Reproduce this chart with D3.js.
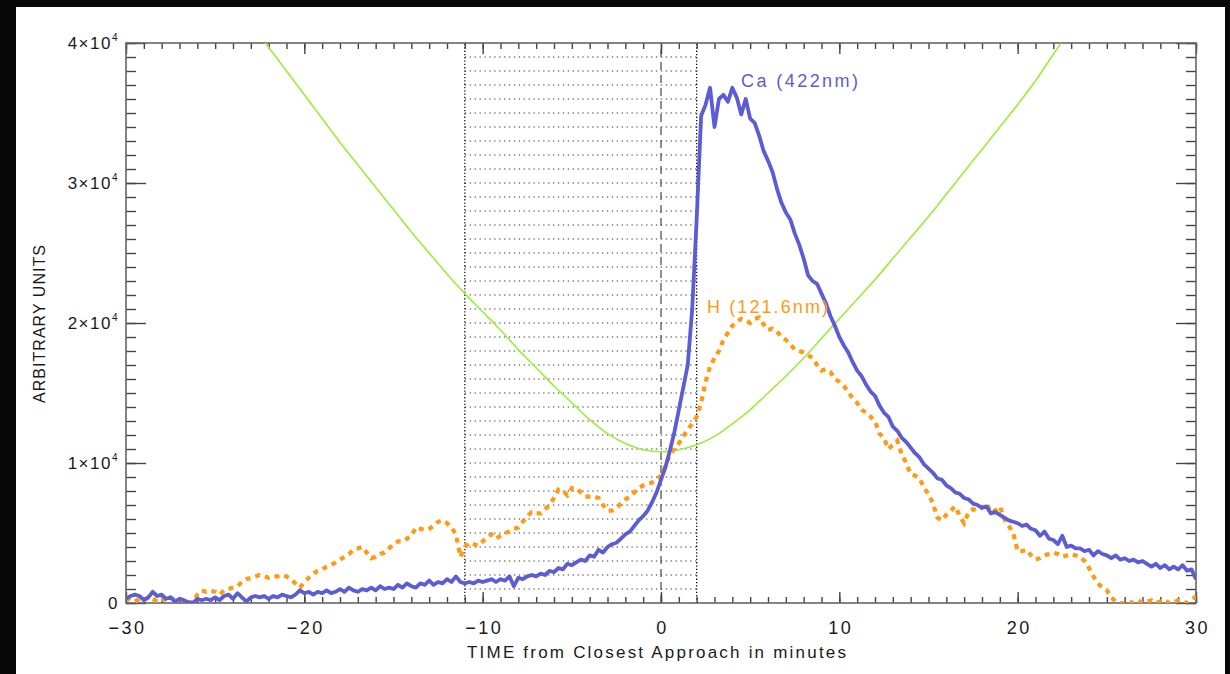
<!DOCTYPE html>
<html>
<head>
<meta charset="utf-8">
<script src="https://cdn.jsdelivr.net/npm/d3@7"></script>
<style>
  html, body { margin: 0; padding: 0; background: #000; }
  svg { display: block; }
  text { font-family: "Liberation Sans", Arial, sans-serif; fill: #1a1a1a; }
</style>
</head>
<body>
<svg id="chart"></svg>
<script>
// 表示サイズ
var size = { width: 1230, height: 674 };
var plot = { left: 126, top: 43, right: 1196, bottom: 603 };

// 時間軸 (分): サンプルは -30 から 0.25 分刻み
var tStart = -30, tStep = 0.25;

// Ca (422nm) 強度, 単位 1000
var caValues = [
  0.3,0.5,0.6,0.5,0.2,0.4,0.8,0.5,0.6,0.3,0.4,0.1,0.3,0.2,0.05,0.0,0.3,0.2,0.3,0.2,
  0.4,0.2,0.5,0.6,0.3,0.7,0.4,0.1,0.4,0.5,0.4,0.5,0.3,0.5,0.4,0.6,0.5,0.4,0.6,0.9,
  0.7,0.8,0.6,0.8,0.7,0.9,0.7,0.8,1.0,0.8,1.1,0.9,0.8,1.0,0.9,1.1,0.9,1.2,1.0,1.1,
  1.0,1.3,1.1,1.4,1.2,1.1,1.4,1.3,1.6,1.3,1.5,1.4,1.7,1.5,1.9,1.5,1.4,1.5,1.4,1.6,
  1.5,1.6,1.7,1.5,1.7,1.6,1.9,1.2,1.8,1.7,1.9,2.0,1.9,2.1,2.0,2.3,2.2,2.5,2.4,2.8,
  2.7,2.9,3.1,3.0,3.4,3.3,3.8,3.6,4.0,4.2,4.3,4.6,4.9,5.1,5.5,5.9,6.2,6.6,7.2,7.9,
  8.8,9.7,10.9,12.2,13.8,15.4,17.0,21.0,27.4,34.8,35.6,36.8,34.0,36.0,36.3,35.8,36.8,36.1,34.9,36.0,
  34.6,34.3,33.4,32.3,31.6,30.8,29.6,28.6,27.9,27.4,26.4,25.6,24.6,23.4,23.0,22.8,22.1,21.4,20.5,19.8,
  19.0,18.4,17.9,17.2,16.6,16.2,15.6,15.1,14.8,14.1,13.6,13.3,12.6,12.3,11.8,11.5,11.1,10.7,10.4,9.9,
  9.6,9.3,8.9,8.8,8.4,8.2,7.9,7.8,7.5,7.4,7.1,7.0,6.8,6.9,6.4,6.5,6.3,6.1,5.9,5.8,
  5.7,5.5,5.6,5.3,5.2,4.8,5.1,4.6,4.5,4.2,4.8,4.0,4.1,3.9,3.9,3.7,3.8,3.4,3.7,3.5,
  3.4,3.2,3.4,3.1,3.2,3.0,3.1,2.9,3.0,2.8,2.6,2.8,2.5,2.7,2.4,2.6,2.4,2.7,2.3,2.4,
  1.7
];

// H (121.6nm) 強度, 単位 1000
var hValues = [
  0.4,0.2,0.1,0.3,0.2,0.4,0.3,0.1,0.3,0.2,0.4,0.2,0.3,0.2,0.1,0.0,0.6,0.9,0.8,0.9,
  0.8,0.6,0.9,1.0,1.1,1.2,1.5,1.7,1.8,1.9,2.0,1.9,1.8,1.9,1.9,2.0,1.9,1.7,1.4,1.1,
  1.5,1.8,2.1,2.3,2.4,2.6,2.7,2.9,3.1,3.3,3.5,3.8,3.9,4.0,3.6,3.2,3.3,3.5,3.6,3.9,
  4.2,4.4,4.4,4.6,4.8,5.4,5.3,5.2,5.3,5.5,5.8,5.9,5.7,5.4,4.9,3.3,4.0,4.3,4.2,4.1,
  4.4,4.7,4.9,4.6,4.8,5.0,5.1,5.3,5.4,5.8,6.2,6.5,6.4,6.4,6.7,7.0,7.5,8.1,8.0,7.7,
  8.2,8.2,7.9,7.6,7.6,7.6,7.5,7.0,6.6,6.6,6.8,7.1,7.4,7.6,7.9,8.2,8.4,8.5,8.6,8.8,
  9.1,9.8,10.6,11.0,11.4,11.9,12.4,12.8,13.3,14.3,15.8,16.9,17.5,18.0,18.8,19.3,19.8,20.1,20.3,20.2,
  20.0,20.3,20.4,19.9,19.5,19.6,19.4,19.0,18.8,18.5,18.1,18.0,17.9,17.7,17.5,17.0,16.6,16.7,16.5,16.0,
  15.8,15.5,15.1,14.6,14.3,13.8,13.6,13.3,13.0,12.1,11.8,11.0,11.3,11.6,10.6,10.0,9.2,9.1,8.9,8.2,
  7.8,7.1,6.1,5.9,6.3,6.6,6.9,6.2,5.7,6.5,6.7,6.6,6.8,7.1,6.5,6.6,6.9,6.0,5.5,5.0,
  3.7,3.7,3.8,3.4,3.1,3.2,3.4,3.5,3.6,3.5,3.3,3.4,3.5,3.4,3.3,3.0,2.5,1.9,1.4,1.1,
  0.9,0.4,0.1,0.0,0.0,0.1,0.0,0.2,0.0,0.1,0.2,0.0,0.1,0.2,0.0,0.0,0.2,0.1,0.0,0.2,
  0.5
];

// 緑の曲線 (1 分刻み)
var greenTime = [-23,-22,-21,-20,-19,-18,-17,-16,-15,-14,-13,-12,-11,-10,-9,-8,-7,-6,-5,-4,-3,-2,-1,
  0,1,2,3,4,5,6,7,8,9,10,11,12,13,14,15,16,17,18,19,20,21,22,23];
var greenValues = [41.4,39.7,38.0,36.3,34.6,32.9,31.3,29.7,28.1,26.5,25.0,23.5,22.1,20.8,19.5,18.1,16.8,15.5,14.3,13.1,12.1,11.4,10.95,
  10.8,10.95,11.3,11.9,12.8,13.8,15.0,16.2,17.5,18.9,20.3,21.7,23.1,24.6,26.1,27.6,29.2,30.8,32.4,34.0,35.6,37.3,39.2,41.0];

// 軸の目盛
var xTicks = [-30, -20, -10, 0, 10, 20, 30];
var xTickLabels = ["\u221230", "\u221220", "\u221210", "0", "10", "20", "30"];
var yTicks = [0, 10, 20, 30, 40];
var yTickLabels = [["0", ""], ["1\u00d710", "4"], ["2\u00d710", "4"], ["3\u00d710", "4"], ["4\u00d710", "4"]];

// 網掛け区間と最接近時刻
var shadeRange = [-11, 2];
var closestApproach = 0;

var colors = { ca: "#5c5cd4", h: "#ff9a12", green: "#9cec3c" };

// SVG
var svg = d3.select("#chart")
  .attr("width", size.width)
  .attr("height", size.height);

svg.append("rect")
  .attr("width", size.width).attr("height", size.height)
  .attr("fill", "#070707");
svg.append("rect")
  .attr("x", 16).attr("y", 7)
  .attr("width", 1209).attr("height", 667)
  .attr("fill", "#fff");

var x = d3.scaleLinear().domain([-30, 30]).range([plot.left, plot.right]);
var y = d3.scaleLinear().domain([0, 40]).range([plot.bottom, plot.top]);

svg.append("clipPath").attr("id", "clip")
  .append("rect")
    .attr("x", plot.left).attr("y", plot.top)
    .attr("width", plot.right - plot.left).attr("height", plot.bottom - plot.top);

// 網掛け (点線の格子)
var shade = svg.append("g");
shade.selectAll("line.h")
  .data(d3.range(1, 40))
  .join("line")
    .attr("x1", x(shadeRange[0])).attr("x2", x(shadeRange[1]))
    .attr("y1", function(d){ return y(d); }).attr("y2", function(d){ return y(d); })
    .attr("stroke", "#777").attr("stroke-width", 1.3)
    .attr("stroke-dasharray", "1.3,3.6");
shade.selectAll("line.v")
  .data(shadeRange)
  .join("line")
    .attr("x1", function(d){ return x(d); }).attr("x2", function(d){ return x(d); })
    .attr("y1", y(0)).attr("y2", y(40))
    .attr("stroke", "#111").attr("stroke-width", 1.3)
    .attr("stroke-dasharray", "1.3,2");
shade.append("line")
  .attr("x1", x(closestApproach)).attr("x2", x(closestApproach))
  .attr("y1", y(0)).attr("y2", y(40))
  .attr("stroke", "#555").attr("stroke-width", 1.3)
  .attr("stroke-dasharray", "8,5");

// 目盛線 (内向き)
function ticks(axis, values, len) {
  return axis.tickValues(values).tickSizeInner(-len).tickSizeOuter(0).tickFormat("");
}
function styleAxis(g) {
  g.select(".domain").remove();
  g.selectAll("line").attr("stroke", "#444").attr("stroke-width", 1.4);
}
var minorX = d3.range(-30, 31, 1), minorY = d3.range(0, 41, 1);
[[d3.axisBottom, plot.bottom], [d3.axisTop, plot.top]].forEach(function(a){
  svg.append("g").attr("transform", "translate(0," + a[1] + ")")
    .call(ticks(a[0](x), minorX, 6)).call(styleAxis);
  svg.append("g").attr("transform", "translate(0," + a[1] + ")")
    .call(ticks(a[0](x), xTicks, 11)).call(styleAxis);
});
[[d3.axisLeft, plot.left], [d3.axisRight, plot.right]].forEach(function(a){
  svg.append("g").attr("transform", "translate(" + a[1] + ",0)")
    .call(ticks(a[0](y), minorY, 10)).call(styleAxis);
  svg.append("g").attr("transform", "translate(" + a[1] + ",0)")
    .call(ticks(a[0](y), yTicks, 20)).call(styleAxis);
});

// 枠
svg.append("rect")
  .attr("x", plot.left).attr("y", plot.top)
  .attr("width", plot.right - plot.left).attr("height", plot.bottom - plot.top)
  .attr("fill", "none").attr("stroke", "#666").attr("stroke-width", 1.6);

// 目盛ラベル
svg.append("g").selectAll("text")
  .data(xTicks)
  .join("text")
    .attr("x", function(d){ return x(d) + 1.5; })
    .attr("y", 634)
    .attr("text-anchor", "middle")
    .style("font-size", "18px").style("letter-spacing", "2.5px")
    .text(function(d, i){ return xTickLabels[i]; });

var yl = svg.append("g").selectAll("text")
  .data(yTicks)
  .join("text")
    .attr("x", 119)
    .attr("y", function(d){ return y(d) + 6; })
    .attr("text-anchor", "end")
    .style("font-size", "17px").style("letter-spacing", "1.5px");
yl.append("tspan").text(function(d, i){ return yTickLabels[i][0]; });
yl.append("tspan")
  .attr("dy", -8)
  .style("font-size", "10px")
  .text(function(d, i){ return yTickLabels[i][1]; });

// 軸タイトル
svg.append("text")
  .attr("x", 467).attr("y", 658)
  .attr("textLength", 379).attr("lengthAdjust", "spacing")
  .style("font-size", "17px")
  .text("TIME from Closest Approach in minutes");
svg.append("text")
  .attr("transform", "translate(45,403) rotate(-90)")
  .attr("textLength", 158).attr("lengthAdjust", "spacing")
  .style("font-size", "16px")
  .text("ARBITRARY UNITS");

// 描画
var lineT = d3.line()
  .x(function(d, i){ return x(tStart + i * tStep); })
  .y(function(d){ return y(d); });

var lines = svg.append("g").attr("clip-path", "url(#clip)");

lines.append("path")
  .datum(greenValues)
  .attr("fill", "none").attr("stroke", colors.green).attr("stroke-width", 1.6)
  .attr("d", d3.line()
    .curve(d3.curveCatmullRom)
    .x(function(d, i){ return x(greenTime[i]); })
    .y(function(d){ return y(d); }));

lines.append("path")
  .datum(hValues)
  .attr("fill", "none").attr("stroke", colors.h).attr("stroke-width", 4.2)
  .attr("stroke-dasharray", "5,5")
  .attr("d", lineT);

lines.append("path")
  .datum(caValues)
  .attr("fill", "none").attr("stroke", colors.ca).attr("stroke-width", 3.8)
  .attr("stroke-linejoin", "round")
  .attr("d", lineT);

// 系列ラベル
svg.append("text")
  .attr("x", 741).attr("y", 87)
  .attr("textLength", 117).attr("lengthAdjust", "spacing")
  .style("font-size", "18px").style("fill", colors.ca)
  .text("Ca (422nm)");
svg.append("text")
  .attr("x", 707).attr("y", 313)
  .attr("textLength", 121).attr("lengthAdjust", "spacing")
  .style("font-size", "18px").style("fill", colors.h)
  .text("H (121.6nm)");
</script>
</body>
</html>
